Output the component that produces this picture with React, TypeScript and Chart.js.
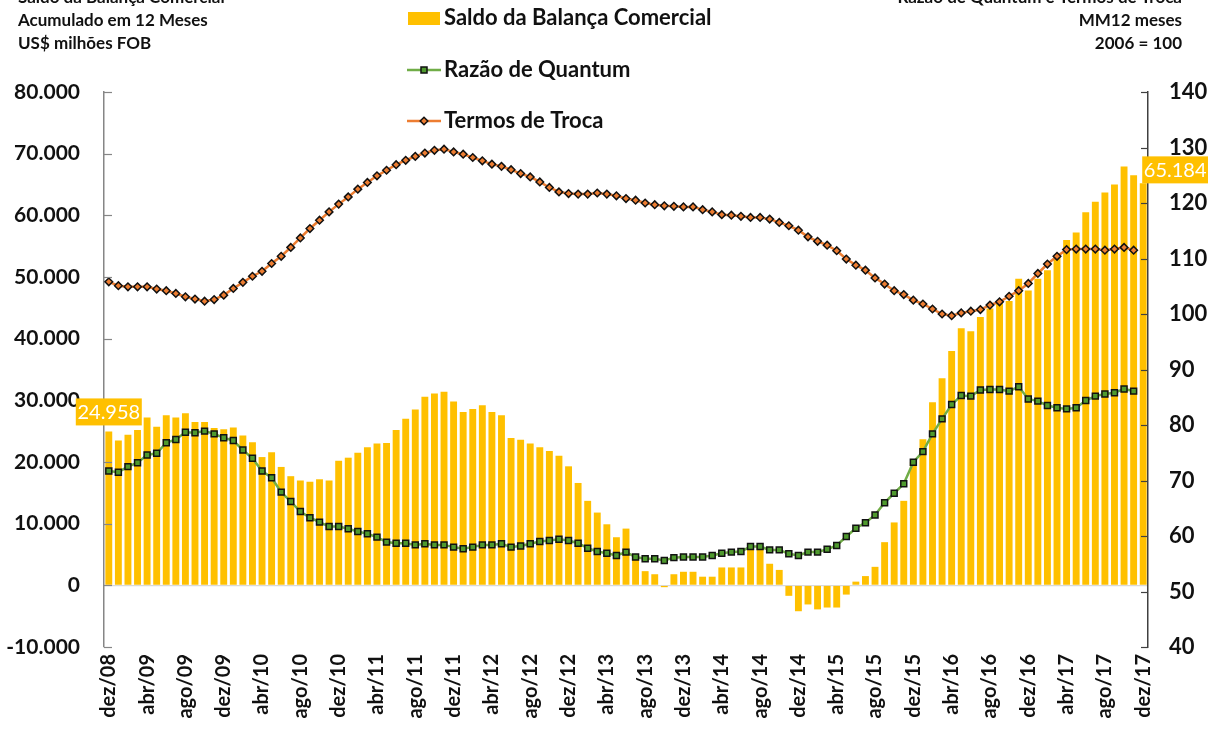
import React, { useEffect, useRef } from 'react';
import { Chart, registerables } from 'chart.js';

Chart.register(...registerables);

const MONTHS = ['jan', 'fev', 'mar', 'abr', 'mai', 'jun', 'jul', 'ago', 'set', 'out', 'nov', 'dez'];
// dez/08 .. dez/17 (109 months)
const LABELS: string[] = [];
for (let i = 0; i < 109; i++) {
  const m = (11 + i) % 12;
  const y = 8 + Math.floor((11 + i) / 12);
  LABELS.push(MONTHS[m] + '/' + String(y).padStart(2, '0'));
}

// Saldo da Balança Comercial, acumulado 12 meses (US$ milhões FOB)
const SALDO = [
  24958, 23500, 24400, 25200, 27200, 25700, 27600, 27200, 27900, 26500,
  26500, 25500, 25300, 25600, 24300, 23200, 20800, 21600, 19200, 17700,
  17000, 16800, 17200, 17000, 20200, 20700, 21500, 22400, 23000, 23100,
  25200, 27000, 28500, 30600, 31100, 31400, 29800, 28100, 28600, 29200,
  28100, 27600, 23900, 23600, 23000, 22400, 21800, 21000, 19300, 16600,
  13700, 11800, 9900, 7800, 9200, 5000, 2300, 1800, -300, 1800,
  2200, 2200, 1400, 1400, 2900, 2900, 2900, 6200, 6200, 3500,
  2500, -1700, -4200, -3100, -3900, -3600, -3600, -1500, 600, 1500,
  3000, 7000, 10200, 13700, 20000, 23700, 29700, 33600, 38000, 41700,
  41200, 43500, 44900, 45700, 46100, 49700, 47800, 49700, 51100, 53300,
  56000, 57200, 60500, 62200, 63700, 65000, 67900, 66500, 65184,
];

// Razão de Quantum (MM12, 2006 = 100)
const QUANTUM = [
  71.7, 71.5, 72.5, 73.2, 74.6, 74.9, 76.8, 77.4, 78.7, 78.6,
  78.9, 78.4, 77.7, 77.2, 75.5, 74.0, 71.7, 70.5, 67.9, 66.2,
  64.4, 63.3, 62.5, 61.7, 61.7, 61.3, 60.8, 60.4, 59.8, 58.9,
  58.7, 58.7, 58.4, 58.6, 58.4, 58.4, 58.0, 57.7, 58.0, 58.4,
  58.4, 58.6, 58.0, 58.2, 58.6, 59.0, 59.2, 59.4, 59.2, 58.7,
  57.8, 57.2, 56.9, 56.5, 57.1, 56.2, 55.9, 55.9, 55.6, 56.1,
  56.2, 56.2, 56.2, 56.5, 56.9, 57.1, 57.2, 58.1, 58.1, 57.5,
  57.5, 56.8, 56.5, 57.1, 57.1, 57.6, 58.3, 59.9, 61.4, 62.4,
  63.8, 66.0, 67.7, 69.4, 73.3, 75.2, 78.4, 81.1, 83.7, 85.3,
  85.2, 86.3, 86.4, 86.4, 86.1, 86.9, 84.7, 84.3, 83.5, 83.1,
  82.9, 83.1, 84.4, 85.2, 85.6, 85.8, 86.5, 86.1, null,
];

// Termos de Troca (MM12, 2006 = 100)
const TERMOS = [
  105.8, 105.1, 104.9, 104.9, 104.9, 104.5, 104.2, 103.7, 103.1, 102.7,
  102.3, 102.6, 103.4, 104.6, 105.7, 106.8, 107.7, 109.1, 110.4, 112.0,
  113.7, 115.4, 116.9, 118.4, 119.8, 121.1, 122.5, 123.7, 124.9, 125.9,
  126.9, 127.7, 128.4, 129.0, 129.5, 129.7, 129.2, 128.8, 128.2, 127.6,
  127.0, 126.6, 126.0, 125.3, 124.7, 123.8, 122.8, 122.0, 121.7, 121.6,
  121.6, 121.8, 121.6, 121.3, 120.8, 120.5, 120.0, 119.7, 119.5, 119.4,
  119.3, 119.3, 118.8, 118.4, 117.9, 117.8, 117.6, 117.4, 117.4, 117.1,
  116.5, 115.9, 115.1, 113.9, 113.1, 112.4, 111.4, 109.9, 108.8, 107.9,
  106.5, 105.4, 104.2, 103.5, 102.5, 101.8, 100.9, 100.0, 99.7, 100.2,
  100.5, 100.8, 101.6, 102.2, 103.2, 104.2, 105.5, 107.3, 109.0, 110.4,
  111.6, 111.7, 111.7, 111.7, 111.5, 111.7, 112.0, 111.5, null,
];

const LEFT_TITLE = ['Saldo da Balança Comercial', 'Acumulado em 12 Meses', 'US$ milhões FOB'];
const RIGHT_TITLE = ['Razão de Quantum e Termos de Troca', 'MM12 meses', '2006 = 100'];
const SERIES_NAMES = ['Saldo da Balança Comercial', 'Razão de Quantum', 'Termos de Troca'];
const LABELLED_BARS = [0, 108];

const GOLD = '#FFC000';
const GREEN = '#70AD47';
const GREEN_FILL = '#4F9A2E';
const ORANGE = '#ED7D31';
const FONT = 'Lato, "Open Sans", sans-serif';

function fmt(v: number): string {
  const s = Math.abs(Math.round(v)).toString().replace(/\B(?=(\d{3})+(?!\d))/g, '.');
  return (v < 0 ? '-' : '') + s;
}

function drawMarker(ctx: CanvasRenderingContext2D, style: string, x: number, y: number, fill: string) {
  ctx.save();
  ctx.fillStyle = fill;
  ctx.strokeStyle = '#111';
  ctx.lineWidth = 1.5;
  ctx.beginPath();
  if (style === 'rect') {
    ctx.rect(x - 3, y - 3, 6, 6);
  } else {
    ctx.moveTo(x, y - 3.8);
    ctx.lineTo(x + 3.8, y);
    ctx.lineTo(x, y + 3.8);
    ctx.lineTo(x - 3.8, y);
    ctx.closePath();
  }
  ctx.fill();
  ctx.stroke();
  ctx.restore();
}

const overlayPlugin = {
  id: 'overlay',
  afterDraw(chart: any) {
    const ctx: CanvasRenderingContext2D = chart.ctx;
    const area = chart.chartArea;
    const ya = chart.scales.y;
    const yb = chart.scales.y1;
    ctx.save();

    // inward tick marks
    ctx.lineWidth = 1.2;
    ctx.strokeStyle = '#868686';
    ya.ticks.forEach((t: any) => {
      const y = Math.round(ya.getPixelForValue(t.value)) + 0.5;
      ctx.beginPath();
      ctx.moveTo(area.left, y);
      ctx.lineTo(area.left + 8, y);
      ctx.stroke();
    });
    ctx.strokeStyle = '#404040';
    yb.ticks.forEach((t: any) => {
      const y = Math.round(yb.getPixelForValue(t.value)) + 0.5;
      ctx.beginPath();
      ctx.moveTo(area.right, y);
      ctx.lineTo(area.right - 7, y);
      ctx.stroke();
    });

    // titles
    ctx.fillStyle = '#111';
    ctx.font = 'bold 17px ' + FONT;
    ctx.textBaseline = 'middle';
    ctx.textAlign = 'left';
    LEFT_TITLE.forEach((s, i) => ctx.fillText(s, 18, -2 + i * 23));
    ctx.textAlign = 'right';
    RIGHT_TITLE.forEach((s, i) => ctx.fillText(s, 1182, -2 + i * 23));

    // legend
    ctx.textAlign = 'left';
    ctx.font = 'bold 22px ' + FONT;
    ctx.fillStyle = GOLD;
    ctx.fillRect(408, 12, 32, 13);
    ctx.fillStyle = '#111';
    ctx.fillText(SERIES_NAMES[0], 444, 18);

    ctx.strokeStyle = GREEN;
    ctx.lineWidth = 2.5;
    ctx.beginPath();
    ctx.moveTo(407, 70);
    ctx.lineTo(441, 70);
    ctx.stroke();
    drawMarker(ctx, 'rect', 424, 70, GREEN_FILL);
    ctx.fillStyle = '#111';
    ctx.fillText(SERIES_NAMES[1], 444, 70);

    ctx.strokeStyle = ORANGE;
    ctx.beginPath();
    ctx.moveTo(407, 121);
    ctx.lineTo(441, 121);
    ctx.stroke();
    drawMarker(ctx, 'rectRot', 424, 121, ORANGE);
    ctx.fillStyle = '#111';
    ctx.fillText(SERIES_NAMES[2], 444, 121);

    // data labels
    const meta = chart.getDatasetMeta(0);
    ctx.font = '20px ' + FONT;
    LABELLED_BARS.forEach((idx) => {
      const el = meta.data[idx];
      if (!el) return;
      const text = fmt(SALDO[idx]);
      const w = 66;
      const h = 27;
      let bx: number;
      let by: number;
      if (idx === 0) {
        bx = el.x - w / 2;
        by = el.y - 6 - h;
      } else {
        bx = el.x - 1;
        by = el.y - h;
      }
      ctx.fillStyle = GOLD;
      ctx.fillRect(bx, by, w, h);
      ctx.fillStyle = '#fff';
      ctx.textAlign = 'center';
      ctx.fillText(text, bx + w / 2, by + h / 2 + 1);
    });

    ctx.restore();
  },
};

export default function App() {
  const ref = useRef<HTMLCanvasElement | null>(null);

  useEffect(() => {
    document.documentElement.style.overflow = 'hidden';
    const canvas = ref.current;
    if (!canvas) return;
    const tickFont = { family: FONT, size: 21, weight: 'bold' as const };
    const chart = new Chart(canvas, {
      type: 'bar',
      data: {
        labels: LABELS,
        datasets: [
          {
            type: 'bar',
            label: SERIES_NAMES[0],
            data: SALDO,
            yAxisID: 'y',
            backgroundColor: GOLD,
            barPercentage: 0.72,
            categoryPercentage: 1,
            order: 2,
          } as any,
          {
            type: 'line',
            label: SERIES_NAMES[1],
            data: QUANTUM,
            yAxisID: 'y1',
            borderColor: GREEN,
            borderWidth: 2.5,
            pointStyle: 'rect',
            pointRadius: 4.2,
            pointBackgroundColor: GREEN_FILL,
            pointBorderColor: '#111',
            pointBorderWidth: 1.5,
            tension: 0,
            order: 0,
          } as any,
          {
            type: 'line',
            label: SERIES_NAMES[2],
            data: TERMOS,
            yAxisID: 'y1',
            borderColor: ORANGE,
            borderWidth: 2.5,
            pointStyle: 'rectRot',
            pointRadius: 3.8,
            pointBackgroundColor: ORANGE,
            pointBorderColor: '#111',
            pointBorderWidth: 1.5,
            tension: 0,
            order: 1,
          } as any,
        ],
      },
      options: {
        responsive: false,
        animation: false,
        layout: { padding: { top: 92, left: 0, right: 0, bottom: 0 } },
        plugins: {
          legend: { display: false },
          tooltip: { enabled: false },
        },
        scales: {
          x: {
            type: 'category',
            offset: true,
            grid: { display: false, drawTicks: false },
            border: { display: false },
            ticks: {
              autoSkip: false,
              minRotation: 90,
              maxRotation: 90,
              padding: 7,
              color: '#111',
              font: { family: FONT, size: 20, weight: 'bold' },
              callback: (_v: any, i: number) => (i % 4 === 0 ? LABELS[i] : ''),
            },
            afterFit: (s: any) => {
              s.height = 84;
            },
          },
          y: {
            position: 'left',
            min: -10000,
            max: 80000,
            ticks: {
              stepSize: 10000,
              padding: 24,
              color: '#111',
              font: tickFont,
              callback: (v: any) => fmt(Number(v)),
            },
            grid: {
              drawTicks: false,
              lineWidth: 1.2,
              color: (c: any) => (c.tick && c.tick.value === 0 ? '#d9d9d9' : 'rgba(0,0,0,0)'),
            },
            border: { display: true, color: '#868686', width: 1.5 },
            afterFit: (s: any) => {
              s.width = 104;
            },
          },
          y1: {
            position: 'right',
            min: 40,
            max: 140,
            ticks: {
              stepSize: 10,
              padding: 21,
              color: '#111',
              font: { family: FONT, size: 22, weight: 'bold' },
            },
            grid: { display: true, drawOnChartArea: false, drawTicks: false, color: 'rgba(0,0,0,0)' },
            border: { display: true, color: '#404040', width: 1.5 },
            afterFit: (s: any) => {
              s.width = 60;
            },
          },
        },
      } as any,
      plugins: [overlayPlugin],
    });
    return () => chart.destroy();
  }, []);

  return (
    <div style={{ position: 'absolute', left: 0, top: 0, width: 1208, height: 731, background: '#fff', overflow: 'hidden' }}>
      <canvas ref={ref} width={1208} height={731} style={{ display: 'block', width: 1208, height: 731 }} />
    </div>
  );
}
